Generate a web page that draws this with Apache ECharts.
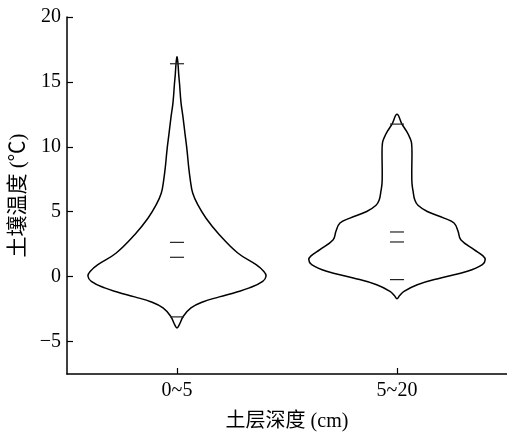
<!DOCTYPE html>
<html>
<head>
<meta charset="utf-8">
<script src="https://cdn.jsdelivr.net/npm/echarts@6/dist/echarts.min.js"></script>
<style>
  html, body { margin: 0; padding: 0; background: #fff; }
  #chart { width: 507px; height: 432px; }
</style>
</head>
<body>
<div id="chart"></div>
<script>
// soil depth groups
const categories = ['0~5', '5~20'];
const yTicks = [-5, 0, 5, 10, 15, 20];

// violin outlines: [temperature, relative density (1 = widest)]
const violin0to5 = [
  [16.95, 0], [16.4, 0.011], [15.5, 0.02], [14.9, 0.028], [13.4, 0.045], [12.3, 0.067],
  [11, 0.09], [9.77, 0.112], [8.5, 0.13], [7.46, 0.149], [6.44, 0.176], [5.54, 0.233],
  [4.5, 0.326], [3.23, 0.475], [1.82, 0.682], [0.92, 0.888], [0.4, 0.975], [0.05, 1],
  [-0.36, 0.962], [-0.87, 0.812], [-1.2, 0.663], [-1.56, 0.475], [-1.95, 0.288],
  [-2.41, 0.157], [-3.05, 0.071], [-3.7, 0.026], [-3.95, 0]
];
const violin5to20 = [
  [12.5, 0], [11.75, 0.056], [11.2, 0.107], [10.67, 0.146], [10.3, 0.163], [9.5, 0.168],
  [8.23, 0.166], [7.2, 0.168], [6.6, 0.18], [5.9, 0.2], [5.5, 0.235], [5.02, 0.34],
  [4.51, 0.528], [4.13, 0.64], [3.49, 0.685], [2.85, 0.716], [2.08, 0.865], [1.6, 0.965],
  [1.31, 0.99], [0.92, 0.958], [0.41, 0.79], [-0.1, 0.491], [-0.62, 0.228],
  [-1.13, 0.079], [-1.45, 0.03], [-1.7, 0]
];
const profiles = [violin0to5, violin5to20];

// summary marks per group
const maxMarks = [16.4, 11.75];
const minMarks = [-3.1, -0.23];
const meanMarks = [2.64, 3.44];
const medianMarks = [1.49, 2.67];

const MAX_HALF = 0.405;   // widest half-width, share of the band
const MARK_HALF = 0.032;  // half length of the summary marks
const FONT = "'Liberation Serif', 'Noto Sans CJK SC', serif";

function renderViolin(params, api) {
  const i = api.value(0);
  const prof = profiles[i];
  const band = api.size([1, 0])[0];
  const pt = (y, d, sign) => {
    const c = api.coord([i, y]);
    return [c[0] + sign * d * MAX_HALF * band, c[1]];
  };
  const right = prof.map(([y, d]) => pt(y, d, 1));
  const left = prof.slice(1, -1).reverse().map(([y, d]) => pt(y, d, -1));
  return {
    type: 'polygon',
    shape: { points: right.concat(left), smooth: 0.4 },
    style: { fill: 'none', stroke: '#000', lineWidth: 1.5 }
  };
}

function renderMark(params, api) {
  const c = api.coord([api.value(0), api.value(1)]);
  const half = MARK_HALF * api.size([1, 0])[0];
  return {
    type: 'line',
    shape: { x1: c[0] - half, y1: c[1], x2: c[0] + half, y2: c[1] },
    style: { stroke: '#222', lineWidth: 1.2 }
  };
}

const markData = [];
categories.forEach((c, i) => {
  [maxMarks, minMarks, meanMarks, medianMarks].forEach(arr => markData.push([i, arr[i]]));
});

const chart = echarts.init(document.getElementById('chart'));
chart.setOption({
  animation: false,
  grid: { left: 67, right: 0, top: 17, bottom: 58, outerBoundsMode: 'none' },
  xAxis: {
    type: 'category',
    data: categories,
    boundaryGap: true,
    name: '土层深度 (cm)',
    nameLocation: 'middle',
    nameGap: 38,
    nameTextStyle: { fontFamily: FONT, fontSize: 20, color: '#000' },
    axisLine: { onZero: false, lineStyle: { color: '#000', width: 1.5 } },
    axisTick: { show: true, alignWithLabel: true, inside: true, length: 6, lineStyle: { color: '#000', width: 1.2 } },
    axisLabel: { fontFamily: FONT, fontSize: 20, color: '#000', margin: 7 },
    splitLine: { show: false }
  },
  yAxis: {
    type: 'value',
    min: -7.5,
    max: 20,
    name: '土壤温度 (℃)',
    nameLocation: 'middle',
    nameGap: 35,
    nameTextStyle: { fontFamily: FONT, fontSize: 21, color: '#000' },
    axisLine: { show: true, lineStyle: { color: '#000', width: 1.5 } },
    axisTick: { show: true, inside: true, length: 6, customValues: yTicks, lineStyle: { color: '#000', width: 1.2 } },
    axisLabel: {
      fontFamily: FONT, fontSize: 20, color: '#000', margin: 6,
      customValues: yTicks,
      formatter: v => String(v).replace('-', '\u2212')
    },
    splitLine: { show: false }
  },
  series: [
    {
      type: 'custom',
      renderItem: renderViolin,
      data: categories.map((c, i) => [i, 0]),
      encode: { x: 0, y: 1 },
      silent: true
    },
    {
      type: 'custom',
      renderItem: renderMark,
      data: markData,
      encode: { x: 0, y: 1 },
      silent: true
    }
  ]
});
</script>
</body>
</html>
